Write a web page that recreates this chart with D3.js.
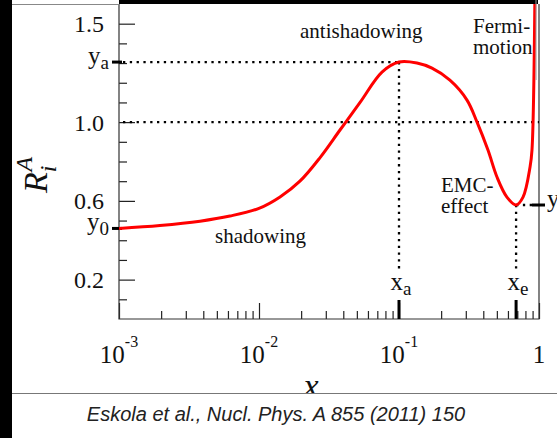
<!DOCTYPE html>
<html>
<head>
<meta charset="utf-8">
<script src="https://cdn.jsdelivr.net/npm/d3@7"></script>
<style>
  body { margin: 0; background: #fff; }
  svg { display: block; }
  .serif { font-family: "Liberation Serif", "DejaVu Serif", serif; fill: #111; }
</style>
</head>
<body>
<svg id="chart"></svg>
<script>
// curve (nuclear modification ratio vs x)
const xValues = [0.001, 0.00196, 0.00379, 0.0062, 0.01, 0.01413, 0.0196, 0.0273, 0.0379, 0.0527,
                 0.0756, 0.1, 0.1344, 0.172, 0.231, 0.306, 0.361, 0.432, 0.501, 0.59,
                 0.686, 0.769, 0.863, 0.891, 0.935];
const yValues = [0.46, 0.475, 0.497, 0.523, 0.562, 0.62, 0.70, 0.82, 0.96, 1.10,
                 1.254, 1.305, 1.30, 1.274, 1.213, 1.112, 1.0, 0.858, 0.721, 0.619,
                 0.579, 0.619, 0.772, 0.858, 1.65];

// marked points
const anchorX = { x0: 0.001, xa: 0.1, xe: 0.686 };
const anchorY = { y0: 0.46, ya: 1.305, ye: 0.579 };

// ticks
const yMajorTicks = [0.2, 0.6, 1.0, 1.5];
const yMinorTicks = [0.1, 0.3, 0.4, 0.5, 0.7, 0.8, 0.9, 1.1, 1.2, 1.3, 1.4];
const xDecades = [0.001, 0.01, 0.1, 1];
const xDecadeLabels = [["10", "-3"], ["10", "-2"], ["10", "-1"], ["1", ""]];
const xMinorTicks = [2, 3, 4, 5, 6, 7, 8, 9].flatMap(m => [0.001, 0.01, 0.1].map(d => m * d));

// region labels
const regionLabels = [
    { lines: ["shadowing"], x: 215, y: 243 },
    { lines: ["antishadowing"], x: 300, y: 38 },
    { lines: ["EMC-", "effect"], x: 441, y: 192 },
    { lines: ["Fermi-", "motion"], x: 473, y: 33 },
];

const W = 557, H = 438;
const margin = { left: 119, right: 539, top: 4, bottom: 319 };

function draw() {
    const { left, right, top, bottom } = margin;

    const svg = d3.select("#chart").attr("width", W).attr("height", H);
    svg.append("rect").attr("width", W).attr("height", H).attr("fill", "#fff");

    const x = d3.scaleLog().domain([0.001, 1]).range([left, right]);
    const y = d3.scaleLinear().domain([0, 1.6]).range([bottom, top]);

    // clip for the curve
    svg.append("clipPath").attr("id", "plotclip")
        .append("rect").attr("x", left).attr("y", top).attr("width", right - left).attr("height", bottom - top);

    const plot = svg.append("g");

    // minor / major ticks via d3 axes (inside the frame)
    const yMinorAxis = d3.axisRight(y).tickValues(yMinorTicks).tickSize(8).tickFormat("");
    const yMajorAxis = d3.axisRight(y).tickValues(yMajorTicks).tickSize(16).tickFormat("");
    const xMinorAxis = d3.axisTop(x).tickValues(xMinorTicks).tickSize(8).tickFormat("");
    const xMajorAxis = d3.axisTop(x).tickValues(xDecades).tickSize(16).tickFormat("");

    [[yMinorAxis, `translate(${left},0)`], [yMajorAxis, `translate(${left},0)`],
     [xMinorAxis, `translate(0,${bottom})`], [xMajorAxis, `translate(0,${bottom})`]].forEach(([ax, tr]) => {
        const g = plot.append("g").attr("transform", tr).call(ax);
        g.select(".domain").remove();
        g.selectAll("line").attr("stroke", "#222").attr("stroke-width", 1.2);
    });

    // frame
    plot.append("path")
        .attr("d", `M${left},${top}V${bottom}H${right}V${top}`)
        .attr("fill", "none").attr("stroke", "#333").attr("stroke-width", 1.2);

    // y tick labels
    plot.selectAll(".ylab").data(yMajorTicks).join("text")
        .attr("class", "serif")
        .attr("x", left - 15).attr("y", d => y(d) + 8.5)
        .attr("text-anchor", "end").attr("font-size", 24)
        .text(d => d.toFixed(1));

    // x tick labels with exponents
    const xl = plot.selectAll(".xlab").data(xDecades).join("text")
        .attr("class", "serif")
        .attr("x", d => x(d)).attr("y", 363)
        .attr("text-anchor", "middle").attr("font-size", 25);
    xl.each(function (d, i) {
        const t = d3.select(this);
        t.append("tspan").text(xDecadeLabels[i][0]);
        if (xDecadeLabels[i][1]) {
            t.append("tspan").attr("dy", -16).attr("font-size", 16).text(xDecadeLabels[i][1]);
        }
    });

    // dotted guides
    const dotted = (x1, y1, x2, y2) => plot.append("line")
        .attr("x1", x1).attr("y1", y1).attr("x2", x2).attr("y2", y2)
        .attr("stroke", "#000").attr("stroke-width", 2.3)
        .attr("stroke-dasharray", "2.3,4.5");

    dotted(left + 4, y(1.0), right, y(1.0));
    dotted(left + 4, y(anchorY.ya), x(anchorX.xa), y(anchorY.ya));
    dotted(x(anchorX.xa), y(anchorY.ya), x(anchorX.xa), 270);
    dotted(x(anchorX.xe), y(anchorY.ye), x(anchorX.xe), 270);
    dotted(x(anchorX.xe), y(anchorY.ye), right - 6, y(anchorY.ye));

    // thick marker ticks
    const thick = (x1, y1, x2, y2) => plot.append("line")
        .attr("x1", x1).attr("y1", y1).attr("x2", x2).attr("y2", y2)
        .attr("stroke", "#000").attr("stroke-width", 3);
    thick(left - 7, y(anchorY.ya), left + 3, y(anchorY.ya));
    thick(left - 7, y(anchorY.y0), left + 3, y(anchorY.y0));
    thick(x(anchorX.xa), bottom, x(anchorX.xa), bottom - 19);
    thick(x(anchorX.xe), bottom, x(anchorX.xe), bottom - 19);
    thick(right - 7, y(anchorY.ye), right + 6, y(anchorY.ye));

    // the curve
    const line = d3.line()
        .x(d => x(d[0])).y(d => y(d[1]))
        .curve(d3.curveCatmullRom.alpha(0.5));
    plot.append("path")
        .datum(xValues.map((v, i) => [v, yValues[i]]))
        .attr("clip-path", "url(#plotclip)")
        .attr("d", line)
        .attr("fill", "none").attr("stroke", "#f00").attr("stroke-width", 3);

    // subscripted labels
    const subLabel = (txt, sub, px, py, anchor) => {
        const t = plot.append("text").attr("class", "serif")
            .attr("x", px).attr("y", py).attr("font-size", 25).attr("text-anchor", anchor);
        t.append("tspan").text(txt);
        t.append("tspan").attr("dy", 5).attr("font-size", 19).text(sub);
    };
    subLabel("y", "a", 109, y(anchorY.ya) + 2, "end");
    subLabel("y", "0", 109, y(anchorY.y0) + 2, "end");
    subLabel("x", "a", x(anchorX.xa) + 2, 290, "middle");
    subLabel("x", "e", x(anchorX.xe) + 2, 290, "middle");
    subLabel("y", "e", 547, y(anchorY.ye) + 2, "start");

    // region text
    regionLabels.forEach(r => {
        const t = plot.append("text").attr("class", "serif").attr("font-size", 21);
        r.lines.forEach((ln, i) => t.append("tspan").attr("x", r.x).attr("y", r.y + i * 20.5).text(ln));
    });

    // axis titles
    const yt = plot.append("text").attr("class", "serif")
        .attr("transform", "translate(47,175) rotate(-90)")
        .attr("text-anchor", "middle").attr("font-size", 34).attr("font-style", "italic");
    yt.append("tspan").text("R");
    yt.append("tspan").attr("dy", 9).attr("font-size", 24).text("i");
    yt.append("tspan").attr("dx", -6).attr("dy", -24).attr("font-size", 24).text("A");

    plot.append("text").attr("class", "serif")
        .attr("x", 311).attr("y", 397).attr("text-anchor", "middle")
        .attr("font-size", 34).attr("font-style", "italic").text("x");

    // caption panel
    svg.append("rect").attr("x", 0).attr("y", 393).attr("width", W).attr("height", H - 393).attr("fill", "#fff");
    svg.append("line").attr("x1", 12).attr("x2", W).attr("y1", 393.5).attr("y2", 393.5)
        .attr("stroke", "#777").attr("stroke-width", 1);
    svg.append("text")
        .attr("x", 276).attr("y", 421).attr("text-anchor", "middle")
        .attr("font-family", "'Liberation Sans', Arial, sans-serif").attr("font-style", "italic")
        .attr("font-size", 20).attr("fill", "#222")
        .text("Eskola et al., Nucl. Phys. A 855 (2011) 150");

    // surrounding black strips of the screenshot
    svg.append("rect").attr("x", 0).attr("y", 0).attr("width", 12).attr("height", H).attr("fill", "#000");
    svg.append("rect").attr("x", left).attr("y", 0).attr("width", 538 - left).attr("height", top).attr("fill", "#000");
    svg.append("line").attr("x1", 12).attr("x2", left).attr("y1", 4.5).attr("y2", 4.5).attr("stroke", "#888");
    svg.append("line").attr("x1", 536).attr("x2", 536).attr("y1", 0).attr("y2", 80).attr("stroke", "#999");
}

draw();
</script>
</body>
</html>
